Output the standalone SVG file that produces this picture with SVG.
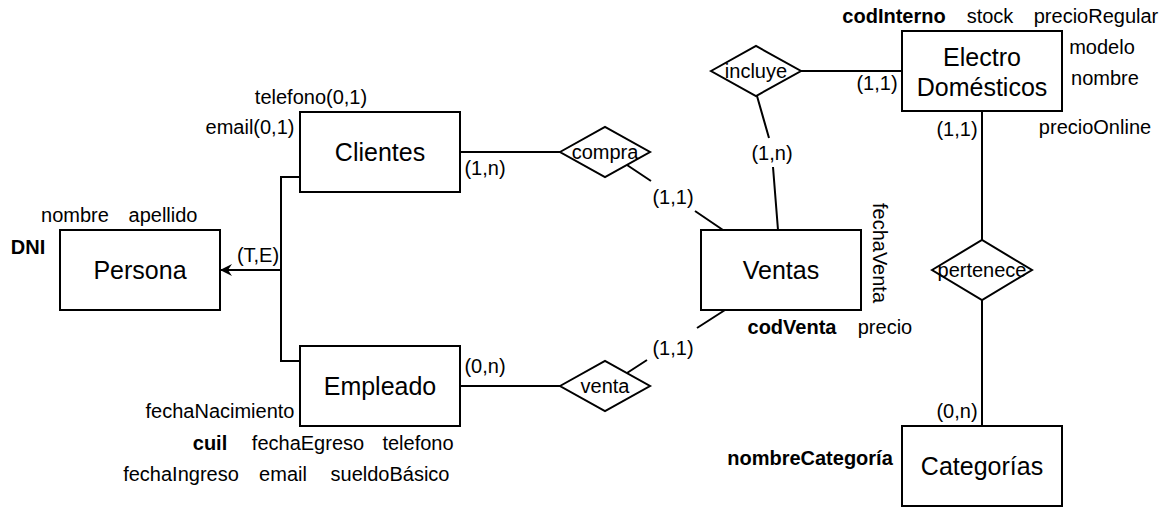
<svg xmlns="http://www.w3.org/2000/svg" width="1166" height="508" viewBox="0 0 1166 508">
<style>
.box{fill:#fff;stroke:#000;stroke-width:2}
.dia{fill:#fff;stroke:#000;stroke-width:2}
.ln{fill:none;stroke:#000;stroke-width:2}
text{font-family:"Liberation Sans",Arial,sans-serif;fill:#000}
.ent{font-size:25px;text-anchor:middle}
.at{font-size:20px;text-anchor:middle}
.b{font-weight:bold}
</style>
<defs>
<marker id="arr" markerWidth="12" markerHeight="12" refX="11" refY="6" orient="auto" markerUnits="userSpaceOnUse">
<path d="M0,0 L12,6 L0,12 L4,6 Z" fill="#000"/>
</marker>
</defs>
<rect width="1166" height="508" fill="#fff"/>
<g id="connectors">
<path class="ln" d="M300,177 H281 V361 H300"/>
<path class="ln" d="M281,270 H221" marker-end="url(#arr)"/>
<path class="ln" d="M460,152 H560"/>
<path class="ln" d="M627,165 L651,181 M695,211 L723,230"/>
<path class="ln" d="M460,386 H560"/>
<path class="ln" d="M627,373 L647,360 M697,328 L725,310"/>
<path class="ln" d="M757,96 L769,138 M773,167 L778,230"/>
<path class="ln" d="M801,71 H902"/>
<path class="ln" d="M982,111 V240"/>
<path class="ln" d="M982,300 V426"/>
<text class="at" x="258" y="262">(T,E)</text>
<text class="at" x="485" y="175">(1,n)</text>
<text class="at" x="485" y="373">(0,n)</text>
<text class="at" x="673" y="204">(1,1)</text>
<text class="at" x="673" y="355">(1,1)</text>
<text class="at" x="772" y="160">(1,n)</text>
<text class="at" x="877" y="90">(1,1)</text>
<text class="at" x="957" y="136">(1,1)</text>
<text class="at" x="957" y="418">(0,n)</text>
</g>
<g id="persona">
<rect class="box" x="60" y="230" width="160" height="80"/>
<text class="ent" x="140" y="279">Persona</text>
<text class="at" x="75" y="222">nombre</text>
<text class="at" x="163" y="222">apellido</text>
<text class="at b" x="28" y="254">DNI</text>
</g>
<g id="clientes">
<rect class="box" x="300" y="112" width="160" height="80"/>
<text class="ent" x="380" y="161">Clientes</text>
<text class="at" x="311" y="104">telefono(0,1)</text>
<text class="at" x="250" y="134">email(0,1)</text>
</g>
<g id="empleado">
<rect class="box" x="300" y="346" width="160" height="80"/>
<text class="ent" x="380" y="395">Empleado</text>
<text class="at" x="220" y="418">fechaNacimiento</text>
<text class="at b" x="210" y="450">cuil</text>
<text class="at" x="308" y="450">fechaEgreso</text>
<text class="at" x="418" y="450">telefono</text>
<text class="at" x="181" y="481">fechaIngreso</text>
<text class="at" x="283" y="481">email</text>
<text class="at" x="390" y="481">sueldoBásico</text>
</g>
<g id="compra">
<polygon class="dia" points="560,152 605,127 650,152 605,177"/>
<text class="at" x="605" y="159">compra</text>
</g>
<g id="venta">
<polygon class="dia" points="560,386 605,361 650,386 605,411"/>
<text class="at" x="605" y="393">venta</text>
</g>
<g id="ventas">
<rect class="box" x="701" y="230" width="160" height="80"/>
<text class="ent" x="781" y="279">Ventas</text>
<text class="at" transform="translate(880,253) rotate(90)" x="0" y="7">fechaVenta</text>
<text class="at b" x="792" y="334">codVenta</text>
<text class="at" x="885" y="334">precio</text>
</g>
<g id="incluye">
<polygon class="dia" points="711,71 756,46 801,71 756,96"/>
<text class="at" x="756" y="78">incluye</text>
</g>
<g id="electrodomesticos">
<rect class="box" x="902" y="31" width="160" height="80"/>
<text class="ent" x="982" y="66">Electro</text>
<text class="ent" x="982" y="96">Domésticos</text>
<text class="at b" x="894" y="23">codInterno</text>
<text class="at" x="990" y="23">stock</text>
<text class="at" x="1096" y="23">precioRegular</text>
<text class="at" x="1102" y="54">modelo</text>
<text class="at" x="1105" y="85">nombre</text>
<text class="at" x="1095" y="134">precioOnline</text>
</g>
<g id="pertenece">
<polygon class="dia" points="932,270 982,240 1032,270 982,300"/>
<text class="at" x="982" y="277">pertenece</text>
</g>
<g id="categorias">
<rect class="box" x="902" y="426" width="160" height="80"/>
<text class="ent" x="982" y="475">Categorías</text>
<text class="at b" x="810" y="465">nombreCategoría</text>
</g>
</svg>
